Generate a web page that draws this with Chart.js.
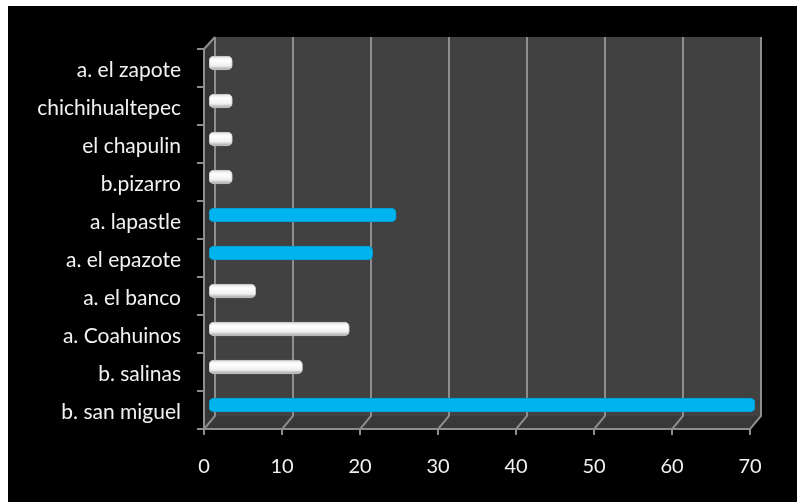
<!DOCTYPE html>
<html>
<head>
<meta charset="utf-8">
<script src="https://cdn.jsdelivr.net/npm/chart.js@4.4.1/dist/chart.umd.min.js"></script>
<style>
	html, body { margin: 0; padding: 0; background: #fff; }
</style>
</head>
<body>
<canvas id="chart" width="797" height="502"></canvas>
<script>
(function () {

	'use strict';

	var categories = ['a. el zapote', 'chichihualtepec', 'el chapulin', 'b.pizarro', 'a. lapastle',
		'a. el epazote', 'a. el banco', 'a. Coahuinos', 'b. salinas', 'b. san miguel'];
	var values = [3, 3, 3, 3, 24, 21, 6, 18, 12, 70];
	var blueRows = ['a. lapastle', 'a. el epazote', 'b. san miguel'];
	var xTicks = [0, 10, 20, 30, 40, 50, 60, 70];

	// 3d depth of the walls
	var DX = 11, DY = 13;

	var frame = {
		id: 'frame',
		beforeDraw: function (chart) {
			var ctx = chart.ctx;
			var a = chart.chartArea;
			var x = chart.scales.x;

			ctx.save();
			ctx.fillStyle = '#fff';
			ctx.fillRect(0, 0, chart.width, chart.height);
			ctx.fillStyle = '#000';
			ctx.fillRect(8, 6, chart.width - 8, chart.height - 6);

			// back wall
			ctx.fillStyle = '#414141';
			ctx.fillRect(a.left + DX, a.top - DY + 1, a.right - a.left, a.bottom - a.top);

			// side wall
			ctx.fillStyle = '#353535';
			ctx.beginPath();
			ctx.moveTo(a.left, a.top);
			ctx.lineTo(a.left + DX, a.top - DY + 1);
			ctx.lineTo(a.left + DX, a.bottom - DY);
			ctx.lineTo(a.left, a.bottom);
			ctx.closePath();
			ctx.fill();

			// floor
			ctx.fillStyle = '#383838';
			ctx.beginPath();
			ctx.moveTo(a.left, a.bottom);
			ctx.lineTo(a.left + DX, a.bottom - DY);
			ctx.lineTo(a.right + DX, a.bottom - DY);
			ctx.lineTo(a.right, a.bottom);
			ctx.closePath();
			ctx.fill();

			ctx.strokeStyle = '#8e8e8e';
			ctx.lineWidth = 2;
			xTicks.forEach(function (v) {
				var px = x.getPixelForValue(v);
				ctx.beginPath();
				ctx.moveTo(px + DX, a.top - DY + 1);
				ctx.lineTo(px + DX, a.bottom - DY);
				ctx.lineTo(px, a.bottom);
				ctx.lineTo(px, a.bottom + 6);
				ctx.stroke();
			});

			// front axes
			ctx.lineWidth = 2;
			ctx.beginPath();
			ctx.moveTo(a.left, a.top);
			ctx.lineTo(a.left, a.bottom);
			ctx.lineTo(a.right, a.bottom);
			ctx.stroke();

			ctx.beginPath();
			ctx.moveTo(a.left, a.top);
			ctx.lineTo(a.left + DX, a.top - DY + 1);
			ctx.stroke();

			var band = (a.bottom - a.top) / categories.length;
			for (var i = 0; i <= categories.length; i++) {
				var py = a.top + band * i;
				ctx.beginPath();
				ctx.moveTo(a.left - 7, py);
				ctx.lineTo(a.left, py);
				ctx.stroke();
			}
			ctx.restore();
		},
		beforeDatasetsDraw: function (chart) {
			chart.ctx.save();
			chart.ctx.translate(5, -5);
		},
		afterDatasetsDraw: function (chart) {
			chart.ctx.restore();
		}
	};

	function barFill(context) {
		var chart = context.chart;
		var cat = categories[context.dataIndex];
		if (!chart.chartArea) {
			return '#fff';
		}
		if (blueRows.indexOf(cat) >= 0) {
			return '#00b4ef';
		}
		var py = chart.scales.y.getPixelForValue(context.dataIndex);
		var g = chart.ctx.createLinearGradient(0, py - 7, 0, py + 7);
		g.addColorStop(0, '#e0e0e0');
		g.addColorStop(0.3, '#ffffff');
		g.addColorStop(0.7, '#f0f0f0');
		g.addColorStop(1, '#9c9c9c');
		return g;
	}

	var chart = new Chart(document.getElementById('chart'), {
		type: 'bar',
		data: {
			labels: categories,
			datasets: [{
				data: values,
				backgroundColor: barFill,
				borderColor: function (context) {
					return blueRows.indexOf(categories[context.dataIndex]) >= 0 ? '#0096c8' : '#c0c0c0';
				},
				borderWidth: 1,
				borderRadius: 5,
				borderSkipped: false,
				barThickness: 14
			}]
		},
		plugins: [frame],
		options: {
			indexAxis: 'y',
			responsive: false,
			animation: false,
			layout: {
				padding: { left: 8, top: 49, right: 47, bottom: 0 }
			},
			plugins: {
				legend: { display: false },
				tooltip: { enabled: false }
			},
			scales: {
				x: {
					min: 0,
					max: 70,
					afterBuildTicks: function (scale) {
						scale.ticks = xTicks.map(function (v) { return { value: v }; });
					},
					afterFit: function (scale) { scale.height = 73; },
					grid: { display: false, drawTicks: false },
					border: { display: false },
					ticks: {
						color: '#f2f2f2',
						padding: 26,
						font: { family: 'Lato', size: 20 }
					}
				},
				y: {
					afterFit: function (scale) { scale.width = 196; },
					grid: { display: false, drawTicks: false },
					border: { display: false },
					ticks: {
						color: '#f2f2f2',
						padding: 23,
						labelOffset: 2,
						font: { family: 'Lato', size: 21 }
					}
				}
			}
		}
	});

})();
</script>
</body>
</html>
